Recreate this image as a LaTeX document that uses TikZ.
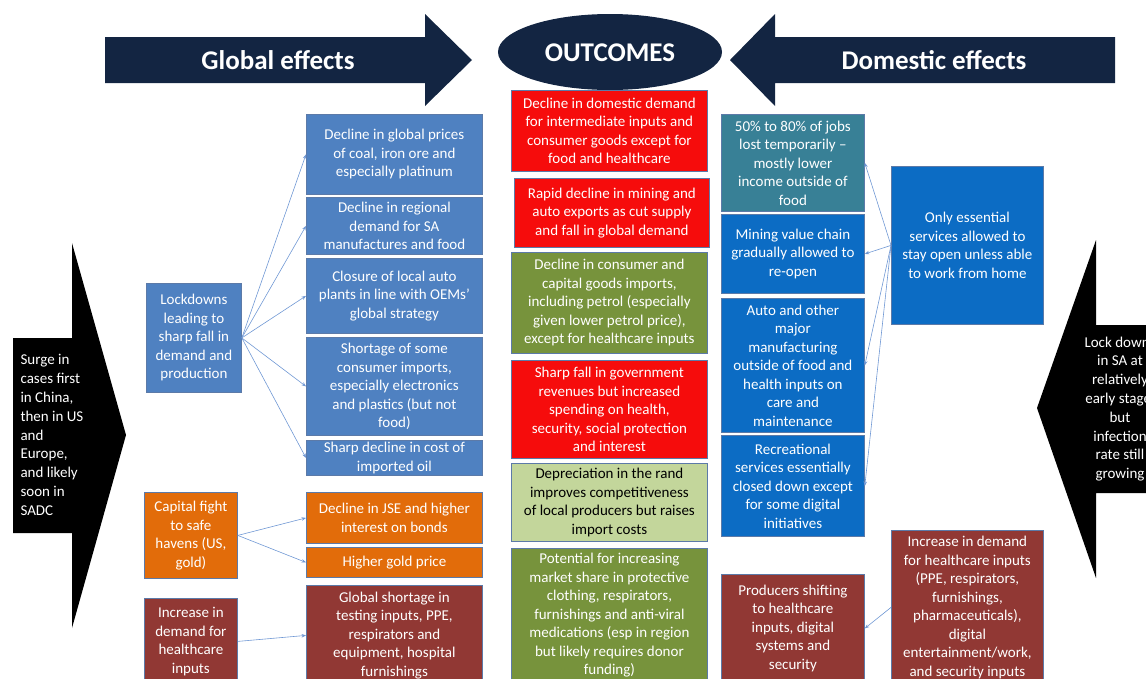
\documentclass[tikz,border=0pt]{standalone}
\usepackage{fontspec}
\setmainfont{Carlito}
\usetikzlibrary{arrows.meta}
\definecolor{navy}{RGB}{19,37,66}
\definecolor{gblue}{RGB}{79,129,193}
\definecolor{orng}{RGB}{226,108,10}
\definecolor{maroon}{RGB}{145,56,52}
\definecolor{brred}{RGB}{246,12,12}
\definecolor{olive}{RGB}{119,147,60}
\definecolor{lgreen}{RGB}{195,214,155}
\definecolor{teal}{RGB}{56,128,150}
\definecolor{dblue}{RGB}{12,108,196}
\definecolor{edge}{RGB}{92,122,168}
\definecolor{linkblue}{RGB}{112,152,212}
\begin{document}
\begin{tikzpicture}[x=1pt,y=-1pt,
    box/.style={draw=edge,line width=0.8pt,anchor=north west,align=center,inner sep=0pt,
      text=white,font=\fontsize{15}{18.5}\selectfont},
    head/.style={text=white,font=\fontsize{27}{30}\selectfont\bfseries},
    link/.style={draw=linkblue,line width=0.6pt,-{Stealth[length=4.5pt,width=3.5pt]}}]
  \useasboundingbox (0,0) rectangle (1146,678);
  \clip (0,0) rectangle (1146,678);
  % headings
  \fill[navy] (105,37) -- (425,37) -- (425,14) -- (472,60) -- (425,106) -- (425,83) -- (105,83) -- cycle;
  \node[head] (global) at (278,60) {Global effects};
  \fill[navy] (610,52) ellipse [x radius=112, y radius=38];
  \node[head] (outcomes) at (610,53) {OUTCOMES};
  \fill[navy] (1115,37) -- (775,37) -- (775,14) -- (730,60) -- (775,106) -- (775,83) -- (1115,83) -- cycle;
  \node[head] (domestic) at (934,60) {Domestic effects};
  % black arrows
  \fill[black] (13,338) -- (72,338) -- (72,243) -- (126,435) -- (72,628) -- (72,533) -- (13,533) -- cycle;
  \node[anchor=west,align=left,text=white,font=\fontsize{15}{18.8}\selectfont] (surge) at (17,435)
    {Surge in\\cases first\\in China,\\then in US\\and\\Europe,\\and likely\\soon in\\SADC};
  \fill[black] (1160,325) -- (1096,325) -- (1096,240) -- (1037,408) -- (1096,578) -- (1096,493) -- (1160,493) -- cycle;
  \node[align=center,text=white,font=\fontsize{15}{18.8}\selectfont] (lockdown) at (1120,409)
    {Lock downs\\in SA at\\relatively\\early stage,\\but\\infection\\rate still\\growing};
  % global causes
  \node[box,fill=gblue,minimum width=95pt,minimum height=109pt] (lock) at (146,283)
    {Lockdowns\\leading to\\sharp fall in\\demand and\\production};
  \node[box,fill=orng,minimum width=93pt,minimum height=86pt] (capital) at (144,492)
    {Capital fight\\to safe\\havens (US,\\gold)};
  \node[box,fill=maroon,minimum width=93pt,minimum height=86pt] (health) at (144,598)
    {Increase in\\demand for\\healthcare\\inputs};
  % global effects
  \node[box,fill=gblue,minimum width=176pt,minimum height=80pt] (price) at (306,114)
    {Decline in global prices\\of coal, iron ore and\\especially platinum};
  \node[box,fill=gblue,minimum width=176pt,minimum height=57pt] (regional) at (306,197)
    {Decline in regional\\demand for SA\\manufactures and food};
  \node[box,fill=gblue,minimum width=176pt,minimum height=75pt] (auto) at (306,258)
    {Closure of local auto\\plants in line with OEMs'\\global strategy};
  \node[box,fill=gblue,minimum width=176pt,minimum height=98pt] (imports) at (306,337)
    {Shortage of some\\consumer imports,\\especially electronics\\and plastics (but not\\food)};
  \node[box,fill=gblue,minimum width=176pt,minimum height=35pt] (oil) at (306,440)
    {Sharp decline in cost of\\imported oil};
  \node[box,fill=orng,minimum width=176pt,minimum height=51pt] (jse) at (306,492)
    {Decline in JSE and higher\\interest on bonds};
  \node[box,fill=orng,minimum width=176pt,minimum height=30pt] (gold) at (306,547)
    {Higher gold price};
  \node[box,fill=maroon,minimum width=176pt,minimum height=100pt] (shortage) at (306,585)
    {Global shortage in\\testing inputs, PPE,\\respirators and\\equipment, hospital\\furnishings};
  % outcomes
  \node[box,fill=brred,minimum width=196pt,minimum height=81pt] (demand) at (511,90)
    {Decline in domestic demand\\for intermediate inputs and\\consumer goods except for\\food and healthcare};
  \node[box,fill=brred,minimum width=195pt,minimum height=69pt] (exports) at (514,178)
    {Rapid decline in mining and\\auto exports as cut supply\\and fall in global demand};
  \node[box,fill=olive,minimum width=196pt,minimum height=101pt] (importfall) at (511,252)
    {Decline in consumer and\\capital goods imports,\\including petrol (especially\\given lower petrol price),\\except for healthcare inputs};
  \node[box,fill=brred,minimum width=196pt,minimum height=98pt] (revenue) at (511,360)
    {Sharp fall in government\\revenues but increased\\spending on health,\\security, social protection\\and interest};
  \node[box,fill=lgreen,text=black,minimum width=196pt,minimum height=78pt] (rand) at (511,463)
    {Depreciation in the rand\\improves competitiveness\\of local producers but raises\\import costs};
  \node[box,fill=olive,minimum width=196pt,minimum height=134pt] (share) at (511,548)
    {Potential for increasing\\market share in protective\\clothing, respirators,\\furnishings and anti-viral\\medications (esp in region\\but likely requires donor\\funding)};
  % domestic effects
  \node[box,fill=teal,minimum width=143pt,minimum height=97pt] (jobs) at (721,114)
    {50\% to 80\% of jobs\\lost temporarily --\\mostly lower\\income outside of\\food};
  \node[box,fill=dblue,minimum width=143pt,minimum height=79pt] (mining) at (721,214)
    {Mining value chain\\gradually allowed to\\re-open};
  \node[box,fill=dblue,minimum width=143pt,minimum height=134pt] (manuf) at (721,298)
    {Auto and other\\major\\manufacturing\\outside of food and\\health inputs on\\care and\\maintenance};
  \node[box,fill=dblue,minimum width=143pt,minimum height=101pt] (recreation) at (721,435)
    {Recreational\\services essentially\\closed down except\\for some digital\\initiatives};
  \node[box,fill=maroon,minimum width=143pt,minimum height=108pt] (producers) at (721,574)
    {Producers shifting\\to healthcare\\inputs, digital\\systems and\\security};
  \node[box,fill=dblue,minimum width=152pt,minimum height=158pt] (essential) at (891,166)
    {Only essential\\services allowed to\\stay open unless able\\to work from home};
  \node[box,fill=maroon,minimum width=152pt,minimum height=154pt] (hcdemand) at (891,530)
    {Increase in demand\\for healthcare inputs\\(PPE, respirators,\\furnishings,\\pharmaceuticals),\\digital\\entertainment/work,\\and security inputs};
  % connectors
  \begin{scope}[link]
    \draw (lock.east) -- (price.west);
    \draw (lock.east) -- (regional.west);
    \draw (lock.east) -- (auto.west);
    \draw (lock.east) -- (imports.west);
    \draw (lock.east) -- (oil.west);
    \draw (capital.east) -- (jse.west);
    \draw (capital.east) -- (gold.west);
    \draw (health.east) -- (shortage.west);
    \draw (essential.west) -- (jobs.east);
    \draw (essential.west) -- (mining.east);
    \draw (essential.west) -- (manuf.east);
    \draw (essential.west) -- (recreation.east);
    \draw (hcdemand.west) -- (producers.east);
  \end{scope}
\end{tikzpicture}
\end{document}
